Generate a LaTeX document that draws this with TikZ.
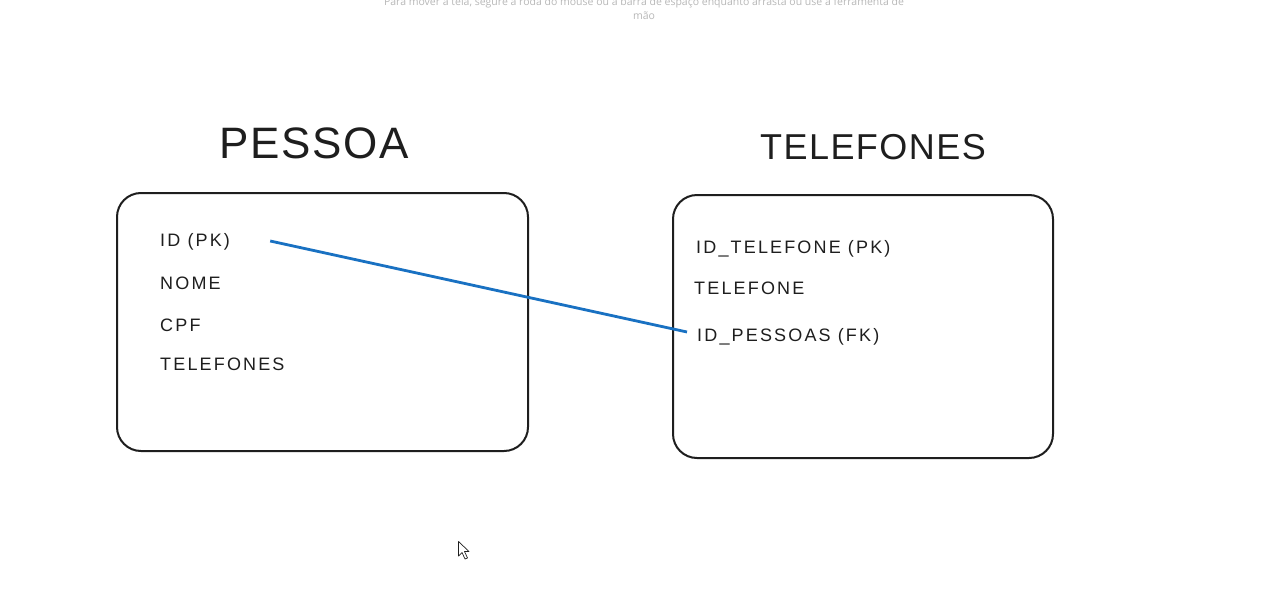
\documentclass[tikz,border=0pt]{standalone}
\usepackage{fontspec}
\setmainfont{Liberation Sans}
\newfontfamily\hintfont{Open Sans}
\newfontfamily\fieldfont[LetterSpace=12]{Liberation Sans}
\newfontfamily\titlefont[LetterSpace=4]{Liberation Sans}
\definecolor{ink}{HTML}{1E1E1E}
\definecolor{linkblue}{HTML}{1971C2}
\definecolor{hintgray}{HTML}{B8B8B8}
\begin{document}
\begin{tikzpicture}[x=1pt,y=-1pt,
  tablebox/.style={draw=ink,line width=2pt,rounded corners=24pt},
  title/.style={text=ink,inner sep=0pt,font=\titlefont\fontsize{44}{48}\selectfont},
  field/.style={text=ink,inner sep=0pt,anchor=west,font=\fieldfont\fontsize{18}{20}\selectfont},
  link/.style={draw=linkblue,line width=2.8pt},
  hint/.style={text=hintgray,inner sep=0pt,font=\hintfont\fontsize{10.5}{14}\selectfont,align=center}]
\useasboundingbox (0,0) rectangle (1273,594);
\fill[white] (0,0) rectangle (1273,594);
\node[hint] (hint) at (644,9) {Para mover a tela, segure a roda do mouse ou a barra de espaço enquanto arrasta ou use a ferramenta de\\mão};
% titles
\node[title] (t1) at (314,143) {PESSOA};
\node[title,font=\titlefont\fontsize{36}{40}\selectfont] (t2) at (873,147) {TELEFONES};
% boxes
\draw[tablebox] (117,193) rectangle (528,451);
\draw[tablebox] (673,195) rectangle (1053,458);
% fields left
\node[field] (pk) at (160,242) {ID (PK)};
\node[field] (nome) at (160,283) {NOME};
\node[field] (cpf) at (160,325) {CPF};
\node[field] (tel) at (160,364) {TELEFONES};
% fields right
\node[field] (idt) at (696,249) {ID\_TELEFONE (PK)};
\node[field] (telf) at (694,288) {TELEFONE};
\node[field] (fk) at (697,337) {ID\_PESSOAS (FK)};
% link
\draw[link] ([xshift=40pt,yshift=1pt]pk.east) -- ([xshift=-10pt,yshift=5pt]fk.west);
% cursor
\draw[ink,line width=0.7pt,fill=white,line join=round] (458.5,541.5) -- (458.5,556) -- (462,552.5) -- (465,559) -- (467.5,558) -- (464.5,551.5) -- (469,551.5) -- cycle;
\end{tikzpicture}
\end{document}
